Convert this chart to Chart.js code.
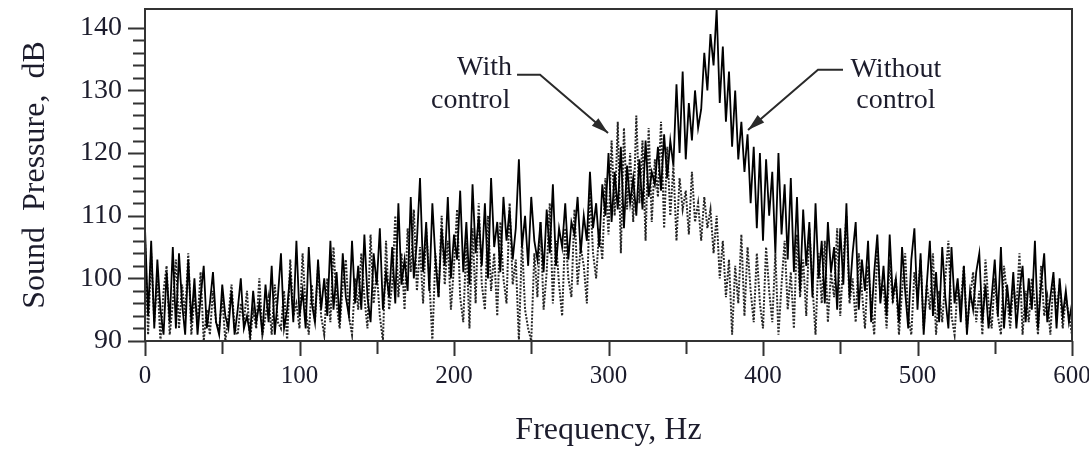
<!DOCTYPE html>
<html>
<head>
<meta charset="utf-8">
<script src="https://cdn.jsdelivr.net/npm/chart.js@4.4.1/dist/chart.umd.min.js"></script>
<style>
  html, body { margin: 0; padding: 0; background: #fff; }
  #grafico { display: block; }
</style>
</head>
<body>
<canvas id="grafico" width="1089" height="450"></canvas>
<script>
// Frecuencias cada 2 Hz (0 a 600)
const paso = 2;
const frecuencias = Array.from({ length: 301 }, (_, i) => i * paso);

// Presión sonora sin control (línea continua), dB
const sinControl = [
    108, 94, 106, 92, 103, 95, 91, 101, 93, 105,
    92, 104, 96, 91, 103, 93, 100, 91, 97, 102,
    92, 96, 101, 93, 91, 99, 94, 92, 98, 91,
    95, 100, 92, 94, 91, 98, 93, 96, 91, 99,
    93, 102, 91, 97, 104, 92, 95, 101, 93, 106,
    94, 98, 92, 105, 96, 93, 103, 95, 100, 94,
    106, 95, 101, 93, 104, 97, 94, 106, 96, 102,
    95, 107, 97, 93, 104, 99, 108, 95, 101, 97,
    105, 96, 112, 99, 103, 98, 113, 100, 106, 116,
    101, 109, 98, 112, 103, 97, 108, 102, 113, 100,
    107, 103, 114, 101, 109, 99, 115, 104, 110, 102,
    112, 100, 116, 105, 109, 101, 113, 106, 111, 103,
    108, 119, 105, 110, 102, 113, 106, 103, 109, 101,
    111, 104, 115, 102, 108, 105, 112, 103, 109, 107,
    113, 104, 110, 106, 117, 108, 112, 105, 115, 110,
    120, 109, 117, 111, 121, 108, 118, 112, 116, 110,
    119, 111, 122, 113, 117, 115, 121, 114, 123, 116,
    122, 118, 131, 120, 133, 119, 128, 122, 130, 124,
    127, 136, 130, 139, 134, 143, 128, 137, 125, 133,
    121, 130, 119, 125, 117, 123, 112, 121, 108, 120,
    106, 119, 110, 117, 104, 120, 107, 115, 103, 116,
    101, 113, 98, 111, 102, 109, 97, 112, 100, 106,
    96, 109, 101, 105, 95, 108, 99, 112, 97, 104,
    109, 95, 103, 98, 106, 93, 101, 107, 96, 102,
    94, 107, 97, 100, 93, 105, 98, 92, 103, 108,
    95, 104, 91, 99, 106, 94, 101, 93, 105, 97,
    92, 105, 96, 100, 93, 102, 91, 98, 95, 101,
    104, 93, 99, 92, 97, 103, 94, 105, 92, 99,
    94, 101, 92, 98, 102, 93, 100, 95, 106, 92,
    99, 104, 93, 97, 101, 92, 100, 94, 98, 93,
    96
];

// Presión sonora con control (línea punteada), dB
const conControl = [
    106, 91, 104, 93, 100, 90, 98, 102, 91, 96,
    103, 92, 99, 94, 104, 91, 97, 93, 101, 90,
    95, 91, 98, 93, 92, 97, 90, 94, 99, 92,
    91, 96, 93, 98, 90, 95, 92, 100, 91, 94,
    97, 91, 99, 93, 92, 98, 90, 103, 94, 96,
    92, 104, 95, 91, 99, 93, 102, 94, 91, 100,
    93, 105, 96, 92, 99, 103, 94, 91, 100, 95,
    104, 97, 92, 107, 96, 101, 94, 90, 106, 95,
    99, 110, 97, 104, 95, 108, 101, 111, 98, 105,
    96, 108, 100, 90, 104, 97, 110, 99, 106, 95,
    102, 111, 97, 93, 106, 92, 108, 96, 112, 99,
    95, 110, 98, 104, 94, 109, 100, 96, 112, 99,
    103, 90, 106, 95, 92, 90, 104, 97, 109, 95,
    101, 112, 96, 106, 99, 94, 108, 100, 97, 111,
    99, 105, 102, 96, 114, 104, 100, 108, 103, 116,
    107, 122, 110, 125, 104, 124, 111, 120, 109, 126,
    112, 122, 106, 124, 109, 119, 113, 125, 108, 121,
    110, 118, 106, 116, 111, 114, 107, 117, 109, 112,
    106, 113, 108, 111, 104, 110, 100, 106, 97, 103,
    91, 102, 96, 107, 94, 105, 98, 93, 104, 96,
    92, 105, 98, 93, 104, 91, 99, 106, 95, 101,
    92, 107, 97, 103, 94, 108, 99, 91, 104, 96,
    106, 93, 101, 97, 108, 94, 103, 110, 96, 100,
    93, 104, 98, 92, 102, 96, 91, 105, 97, 99,
    92, 103, 96, 100, 91, 98, 104, 94, 91, 101,
    97, 103, 92, 99, 95, 104, 91, 98, 93, 100,
    106, 94, 91, 99, 96, 102, 92, 97, 101, 93,
    98, 91, 103, 96, 92, 100, 94, 91, 102, 97,
    92, 99, 95, 104, 91, 98, 93, 100, 96, 91,
    102, 94, 97, 91, 100, 95, 99, 92, 97, 94,
    91
];

// Etiquetas de los ejes
const etiquetasX = [0, 100, 200, 300, 400, 500, 600];
const etiquetasY = [90, 100, 110, 120, 130, 140];

const colorTexto = '#1c1c2c';
const colorEje = '#333';

// Marcas de los ejes, el recuadro y las anotaciones con flechas
const extras = {
    id: 'extras',
    afterDraw(chart) {
        const ctx = chart.ctx;
        const a = chart.chartArea;
        const sx = chart.scales.x;
        const sy = chart.scales.y;
        ctx.save();
        ctx.strokeStyle = colorEje;
        ctx.lineWidth = 2;
        ctx.strokeRect(a.left, a.top, a.right - a.left, a.bottom - a.top);

        ctx.beginPath();
        for (let v = 90; v <= 140; v += 2) {
            const y = Math.round(sy.getPixelForValue(v)) + 0.5;
            const largo = v % 10 === 0 ? 17 : 12;
            ctx.moveTo(a.left - largo, y);
            ctx.lineTo(a.left, y);
        }
        for (let v = 0; v <= 600; v += 50) {
            const x = Math.round(sx.getPixelForValue(v)) + 0.5;
            const largo = v % 100 === 0 ? 15 : 13;
            ctx.moveTo(x, a.bottom);
            ctx.lineTo(x, a.bottom + largo);
        }
        ctx.stroke();

        // Anotaciones
        ctx.fillStyle = colorTexto;
        ctx.font = '28px "Liberation Serif", serif';
        ctx.textBaseline = 'middle';
        ctx.textAlign = 'right';
        ctx.fillText('With', sx.getPixelForValue(237.5), sy.getPixelForValue(133.6));
        ctx.fillText('control', sx.getPixelForValue(236.5), sy.getPixelForValue(128.3));
        ctx.textAlign = 'center';
        ctx.fillText('Without', sx.getPixelForValue(486), sy.getPixelForValue(133.3));
        ctx.fillText('control', sx.getPixelForValue(486), sy.getPixelForValue(128.3));

        const flecha = (puntos) => {
            const p = puntos.map(([f, d]) => [sx.getPixelForValue(f), sy.getPixelForValue(d)]);
            ctx.strokeStyle = '#2a2a2a';
            ctx.lineWidth = 2;
            ctx.beginPath();
            ctx.moveTo(p[0][0], p[0][1]);
            for (let i = 1; i < p.length; i++) ctx.lineTo(p[i][0], p[i][1]);
            ctx.stroke();
            const [x1, y1] = p[p.length - 2];
            const [x2, y2] = p[p.length - 1];
            const ang = Math.atan2(y2 - y1, x2 - x1);
            ctx.fillStyle = '#2a2a2a';
            ctx.beginPath();
            ctx.moveTo(x2, y2);
            ctx.lineTo(x2 - 17 * Math.cos(ang) + 5 * Math.sin(ang), y2 - 17 * Math.sin(ang) - 5 * Math.cos(ang));
            ctx.lineTo(x2 - 17 * Math.cos(ang) - 5 * Math.sin(ang), y2 - 17 * Math.sin(ang) + 5 * Math.cos(ang));
            ctx.closePath();
            ctx.fill();
        };
        flecha([[240.8, 132.5], [255.7, 132.5], [299.7, 123.2]]);
        flecha([[451.8, 133.3], [435.6, 133.3], [390.3, 123.7]]);
        ctx.restore();
    }
};

function generarGrafico() {
    const ctx = document.getElementById('grafico').getContext('2d');
    new Chart(ctx, {
        type: 'line',
        data: {
            datasets: [{
                label: 'Without control',
                data: frecuencias.map((f, i) => ({ x: f, y: sinControl[i] })),
                borderColor: '#000',
                borderWidth: 1.8,
                pointRadius: 0,
                tension: 0
            }, {
                label: 'With control',
                data: frecuencias.map((f, i) => ({ x: f, y: conControl[i] })),
                borderColor: 'rgba(0,0,0,0.85)',
                borderWidth: 2,
                borderDash: [2, 1.5],
                pointRadius: 0,
                tension: 0
            }]
        },
        options: {
            responsive: false,
            animation: false,
            devicePixelRatio: 1,
            layout: { padding: { top: 9, right: 17, left: 0, bottom: 0 } },
            plugins: {
                legend: { display: false },
                tooltip: { enabled: false }
            },
            scales: {
                x: {
                    type: 'linear',
                    min: 0,
                    max: 600,
                    grid: { display: false, drawTicks: false },
                    border: { display: false },
                    ticks: {
                        stepSize: 50,
                        autoSkip: false,
                        maxRotation: 0,
                        padding: 20,
                        color: colorTexto,
                        font: { family: '"Liberation Serif", serif', size: 25 },
                        callback: v => etiquetasX.includes(v) ? v : ''
                    },
                    title: {
                        display: true,
                        text: 'Frequency, Hz',
                        color: colorTexto,
                        font: { family: '"Liberation Serif", serif', size: 32 },
                        padding: { top: 0, bottom: 0 }
                    },
                    afterFit: s => { s.height = 109; s.paddingLeft = 0; s.paddingRight = 0; }
                },
                y: {
                    min: 90,
                    max: 143,
                    grid: { display: false, drawTicks: false },
                    border: { display: false },
                    ticks: {
                        stepSize: 2,
                        autoSkip: false,
                        padding: 23,
                        color: colorTexto,
                        font: { family: '"Liberation Serif", serif', size: 28 },
                        callback: v => etiquetasY.includes(v) ? v : ''
                    },
                    title: {
                        display: true,
                        text: 'Sound  Pressure,  dB',
                        color: colorTexto,
                        font: { family: '"Liberation Serif", serif', size: 32 },
                        padding: { top: 16, bottom: 0 }
                    },
                    afterFit: s => { s.width = 145; s.paddingTop = 0; s.paddingBottom = 0; }
                }
            }
        },
        plugins: [extras]
    });
}

document.addEventListener('DOMContentLoaded', generarGrafico);
</script>
</body>
</html>
